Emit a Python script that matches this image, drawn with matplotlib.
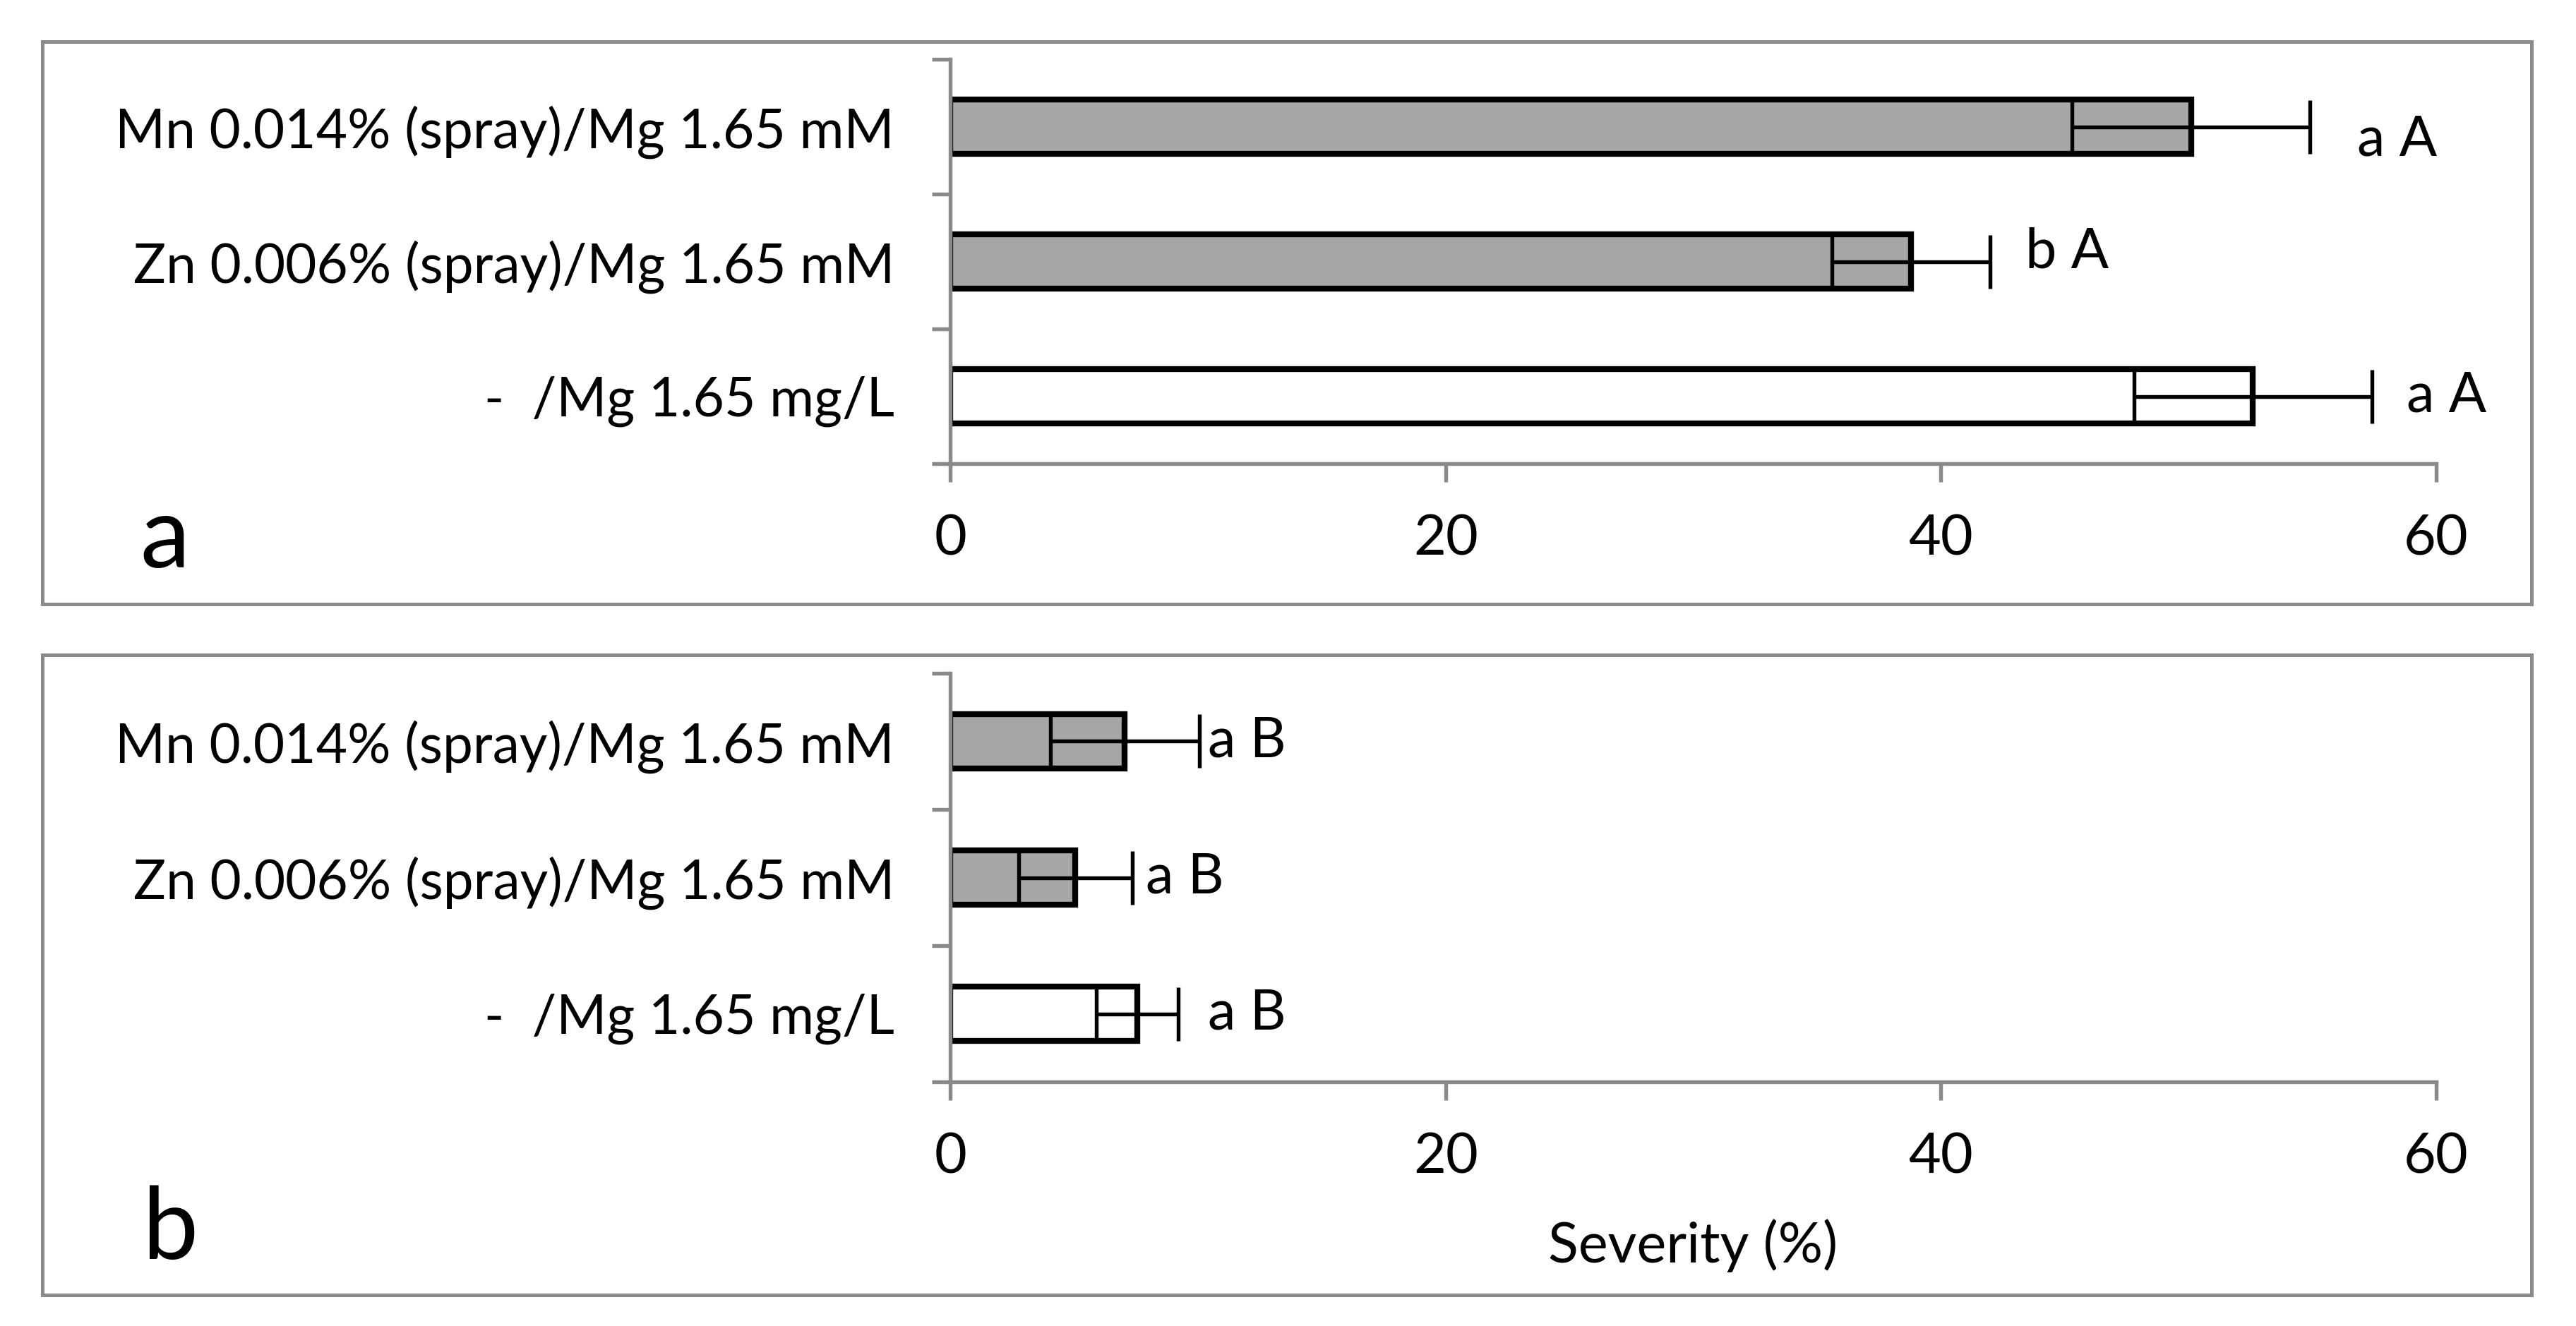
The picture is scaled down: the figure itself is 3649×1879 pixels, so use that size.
import matplotlib
matplotlib.use("Agg")
import matplotlib.pyplot as plt
from matplotlib.patches import Rectangle

# treatments, top to bottom
treatments = ["Mn 0.014% (spray)/Mg 1.65 mM",
              "Zn 0.006% (spray)/Mg 1.65 mM",
              "-  /Mg 1.65 mg/L"]
fills = ["#a6a6a6", "#a6a6a6", "white"]

# panel a
sev_a = [50.1, 38.8, 52.6]
err_a = [4.8, 3.2, 4.8]
letters_a = ["a A", "b A", "a A"]

# panel b
sev_b = [7.05, 5.05, 7.55]
err_b = [3.0, 2.3, 1.65]
letters_b = ["a B", "a B", "a B"]

# where the letters sit (x in data units, y shift in category units)
lab_x_a = [56.8, 43.4, 58.8]
lab_dy_a = [-0.10, 0.07, 0.0]
lab_x_b = [10.4, 7.9, 10.4]
lab_dy_b = [0.0, 0.0, 0.0]

xticks = [0, 20, 40, 60]

plt.rcParams['font.family'] = ['Lato', 'DejaVu Sans']
grey = "#8a8a8a"
fs = 19

fig = plt.figure(figsize=(3649 / 300, 1879 / 300), dpi=300)

# outer frames round each panel
for y0, y1 in [(0.5444, 0.9686), (0.0234, 0.5061)]:
    fig.patches.append(Rectangle((0.0164, y0), 0.9663, y1 - y0, transform=fig.transFigure,
                                 fill=False, edgecolor=grey, lw=1.2))

ax_a = fig.add_axes([0.3689, 0.6503, 0.5768, 0.3050])
ax_b = fig.add_axes([0.3689, 0.1841, 0.5768, 0.3082])

ypos = [2, 1, 0]


def draw(ax, vals, errs, letters, lab_x, lab_dy):
    ax.barh(ypos, vals, height=0.4, color=fills, edgecolor="black", linewidth=2.0,
            xerr=errs, error_kw=dict(ecolor="black", elinewidth=1.3, capsize=9.2, capthick=1.3))
    for i in range(len(vals)):
        ax.text(lab_x[i], ypos[i] + lab_dy[i], letters[i], fontsize=fs, va="center", ha="left")
    ax.set_xlim(0, 60)
    ax.set_ylim(-0.5, 2.5)
    ax.set_xticks(xticks)
    ax.set_yticks(ypos)
    ax.set_yticklabels(treatments)
    ax.set_yticks([-0.5, 0.5, 1.5, 2.5], minor=True)
    ax.tick_params(axis="y", which="major", length=0, pad=19, labelsize=18.4)
    ax.tick_params(axis="y", which="minor", length=6.2, width=1.3, color=grey, direction="out")
    ax.tick_params(axis="x", which="major", length=6.2, width=1.3, color=grey, direction="out",
                   pad=11, labelsize=fs)
    for s in ["top", "right"]:
        ax.spines[s].set_visible(False)
    for s in ["left", "bottom"]:
        ax.spines[s].set_color(grey)
        ax.spines[s].set_linewidth(1.3)


draw(ax_a, sev_a, err_a, letters_a, lab_x_a, lab_dy_a)
draw(ax_b, sev_b, err_b, letters_b, lab_x_b, lab_dy_b)

ax_b.set_xlabel("Severity (%)", fontsize=fs, labelpad=12)

fig.text(0.0543, 0.572, "a", fontsize=34, va="baseline", ha="left")
fig.text(0.0554, 0.0506, "b", fontsize=34, va="baseline", ha="left")

fig.savefig("out.png", dpi=300)
